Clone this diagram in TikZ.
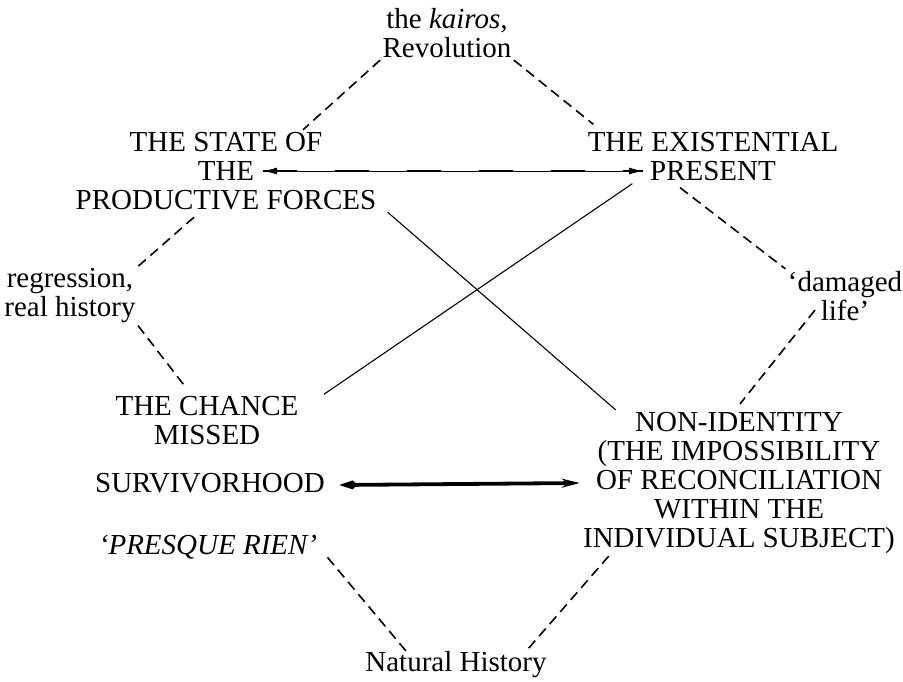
\documentclass[tikz,border=0pt]{standalone}
\usepackage{fontspec}
\setmainfont{LiberationSerif}[Extension=.ttf,
  UprightFont=*-Regular,ItalicFont=*-Italic,BoldFont=*-Bold]
\usetikzlibrary{arrows.meta,calc}

\begin{document}
\begin{tikzpicture}[x=0.5pt,y=-0.5pt,
  lbl/.style={align=center,inner sep=1pt,font=\fontsize{14.5}{14.5}\selectfont},
  dashln/.style={line width=0.8pt,dash pattern=on 5pt off 3pt},
  thinln/.style={line width=0.55pt},
  longdash/.style={line width=0.45pt,
    {Latex[length=7pt,width=3.5pt]}-{Latex[length=7pt,width=3.5pt]},
    postaction={draw,line width=1pt,dash pattern=on 17pt off 19pt,-}},
  boldarr/.style={line width=1.9pt,
    {Kite[length=9pt,width=4.5pt]}-{Stealth[length=9pt,width=4.5pt]}}]
  \useasboundingbox (0,0) rectangle (903,681);

  % the square of positions
  \node[lbl] (kairos) at (447,33) {the \textit{kairos},\\Revolution};
  \node[lbl] (state) at (226,171) {THE STATE OF\\THE\\PRODUCTIVE FORCES};
  \node[lbl] (exist) at (713,157) {THE EXISTENTIAL\\PRESENT};
  \node[lbl] (regress) at (70,296) {regression,\\real history};
  \node[lbl] (damaged) at (845,296) {‘damaged\\life’};
  \node[lbl] (chance) at (207,421) {THE CHANCE\\MISSED};
  \node[lbl] (surv) at (210,483) {SURVIVORHOOD};
  \node[lbl] (presque) at (208,547) {\textit{‘PRESQUE RIEN’}};
  \node[lbl] (nonid) at (739,483)
    {NON-IDENTITY\\(THE IMPOSSIBILITY\\OF RECONCILIATION\\WITHIN THE\\INDIVIDUAL SUBJECT)};
  \node[lbl] (natural) at (456,665) {Natural History};

  % dashed sides
  \draw[dashln] (kairos.south west) -- ($(state.north)+(77,0)$);
  \draw[dashln] (kairos.south east) -- ($(exist.north west)+(8,-6)$);
  \draw[dashln] ($(state.south)+(-32,5)$) -- (regress.north east);
  \draw[dashln] (regress.south east) -- ($(chance.north)+(-22,-8)$);
  \draw[dashln] ($(exist.south)+(-33,4)$) -- (damaged.north west);
  \draw[dashln] ($(damaged.center)+(-30,14)$) -- ($(nonid.north)+(1,-6)$);
  \draw[dashln] ($(presque.south east)+(8,-4)$) -- ($(natural.north)+(-48,4)$);
  \draw[dashln] ($(nonid.south west)+(28,0)$) -- ($(natural.north)+(69,3)$);

  % crossing lines
  \draw[thinln] ($(state.south east)+(9,0)$) -- ($(nonid.north west)+(35,0)$);
  \draw[thinln] ($(chance.north east)+(23,0)$) -- ($(exist.south west)+(47,0)$);

  % arrows
  \draw[longdash] ($(state.center)+(37,0)$) -- ($(exist.center)+(-70,14)$);
  \draw[boldarr] ($(surv.east)+(12,2)$) -- ($(nonid.west)+(-1,0)$);
\end{tikzpicture}
\end{document}
